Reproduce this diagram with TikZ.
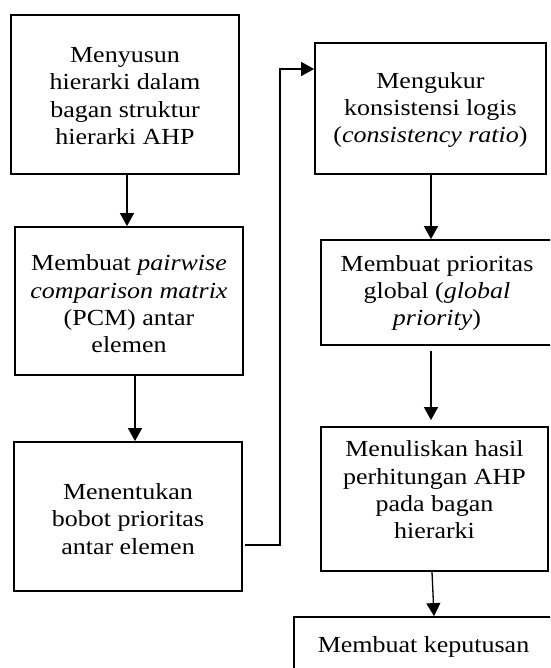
\documentclass[tikz,border=0pt]{standalone}
\usepackage{fontspec}
\setmainfont{Liberation Serif}[FakeStretch=1.13]
\usetikzlibrary{arrows.meta}
\begin{document}
\begin{tikzpicture}[x=1pt,y=-1pt,
  box/.style={draw,line width=1.8pt,inner sep=0pt},
  txt/.style={align=center,inner sep=0pt,font=\fontsize{23}{27.3}\selectfont},
  arr/.style={line width=1.3pt,-{Triangle[length=13pt,width=14pt]}}]
\useasboundingbox (0,0) rectangle (550,668);
\clip (0,0) rectangle (550,668);
% boxes
\node[box,minimum width=228pt,minimum height=159pt] (b1) at (125,94.5) {};
\node[box,minimum width=228pt,minimum height=148pt] (b2) at (129,301) {};
\node[box,minimum width=228pt,minimum height=149pt] (b3) at (128,516.5) {};
\node[box,minimum width=231pt,minimum height=131pt] (b4) at (430.5,108.5) {};
\node[box,minimum width=232pt,minimum height=105pt] (b5) at (437,292.5) {};
\node[box,minimum width=227pt,minimum height=144pt] (b6) at (434.5,499) {};
\node[box,minimum width=259pt,minimum height=83pt] (b7) at (423.5,658.5) {};
% texts
\node[txt] (t1) at (125,96) {Menyusun\\ hierarki dalam\\ bagan struktur\\ hierarki AHP};
\node[txt] (t2) at (129,304) {Membuat \textit{pairwise}\\ \textit{comparison matrix}\\ (PCM) antar\\ elemen};
\node[txt] (t3) at (128,519) {Menentukan\\ bobot prioritas\\ antar elemen};
\node[txt] (t4) at (430.5,110) {Mengukur\\ konsistensi logis\\ (\textit{consistency ratio})};
\node[txt] (t5) at (437,293) {Membuat prioritas\\ global (\textit{global}\\ \textit{priority})};
\node[txt] (t6) at (434.5,490) {Menuliskan hasil\\ perhitungan AHP\\ pada bagan\\ hierarki};
\node[txt] (t7) at (423.5,647) {Membuat keputusan};
% connectors
\coordinate (k) at (280,69);
\draw[arr] (b1.south -| 127,0) -- (b2.north -| 127,0);
\draw[arr] (b2.south -| 135,0) -- (b3.north -| 135,0);
\draw[arr] ([xshift=2pt]b3.east |- 0,545) -| (k) -- (b4.west |- k);
\draw[arr] (b4.south -| 431,0) -- (b5.north -| 431,0);
\draw[arr,shorten <=5pt,shorten >=6pt] (b5.south -| 431,0) -- (b6.north -| 431,0);
\draw[arr] (b6.south -| 432,0) -- (b7.north -| 434,0);
\end{tikzpicture}
\end{document}
